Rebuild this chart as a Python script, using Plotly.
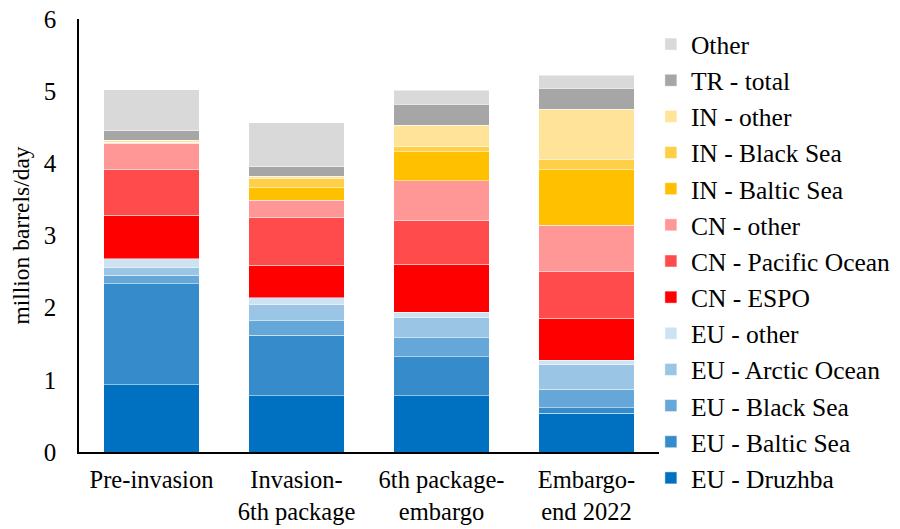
import plotly.graph_objects as go

categories = ["Pre-invasion", "Invasion-<br>6th package", "6th package-<br>embargo", "Embargo-<br>end 2022"]

series_names = [
    "EU - Druzhba", "EU - Baltic Sea", "EU - Black Sea", "EU - Arctic Ocean", "EU - other",
    "CN - ESPO", "CN - Pacific Ocean", "CN - other",
    "IN - Baltic Sea", "IN - Black Sea", "IN - other",
    "TR - total", "Other",
]

eu_druzhba = [0.93, 0.78, 0.78, 0.54]
eu_baltic = [1.40, 0.84, 0.54, 0.07]
eu_black = [0.12, 0.20, 0.26, 0.26]
eu_arctic = [0.11, 0.23, 0.28, 0.34]
eu_other = [0.12, 0.09, 0.08, 0.06]
cn_espo = [0.60, 0.45, 0.66, 0.58]
cn_pacific = [0.64, 0.66, 0.61, 0.65]
cn_other = [0.36, 0.24, 0.55, 0.64]
in_baltic = [0.01, 0.17, 0.40, 0.77]
in_black = [0.00, 0.13, 0.08, 0.15]
in_other = [0.03, 0.03, 0.29, 0.69]
tr_total = [0.13, 0.13, 0.29, 0.29]
other = [0.57, 0.61, 0.19, 0.18]

values = [eu_druzhba, eu_baltic, eu_black, eu_arctic, eu_other,
          cn_espo, cn_pacific, cn_other,
          in_baltic, in_black, in_other,
          tr_total, other]

colors = ["#0070C0", "#368CCB", "#65A7D8", "#9BC5E4", "#CDE2F2",
          "#FF0000", "#FF4B4B", "#FF9797",
          "#FFC000", "#FFCF47", "#FFE399",
          "#A6A6A6", "#D9D9D9"]

fig = go.Figure()
for name, vals, col in zip(series_names, values, colors):
    fig.add_trace(go.Bar(
        x=categories, y=vals, name=name,
        marker=dict(color=col, line=dict(color="rgba(255,255,255,0.6)", width=0.8)),
    ))

font = "Liberation Serif"
H = 529
top_m, bot_m = 0, 40
gs_h = H - top_m - bot_m
gs_bottom = H - bot_m
ax_top, ax_bot = 19, 452
dom = [(gs_bottom - ax_bot) / gs_h, (gs_bottom - ax_top) / gs_h]

fig.update_layout(
    width=900, height=H,
    barmode="stack", bargap=0.34,
    plot_bgcolor="white", paper_bgcolor="white",
    font=dict(family=font, size=25, color="black"),
    margin=dict(l=79, r=241, t=top_m, b=bot_m, autoexpand=False),
    showlegend=True,
    legend=dict(
        traceorder="reversed",
        x=0.986, xanchor="left", y=(gs_bottom - 21) / gs_h, yanchor="top",
        font=dict(family=font, size=25.5, color="black"),
        bgcolor="rgba(0,0,0,0)",
    ),
    xaxis=dict(showline=True, linecolor="black", linewidth=1.5,
               ticks="outside", ticklen=5, tickcolor="rgba(0,0,0,0)",
               tickfont=dict(family=font, size=24.5), showgrid=False),
    yaxis=dict(domain=dom, range=[0, 6], dtick=1, showline=True, linecolor="black", linewidth=1.5,
               ticks="outside", ticklen=16, tickcolor="rgba(0,0,0,0)",
               showgrid=False, zeroline=False, tickfont=dict(family=font, size=25),
               title=dict(text="million barrels/day", font=dict(family=font, size=23.5), standoff=8)),
)

fig.write_html("out.html", config={"displayModeBar": False},
               post_script="document.body.style.margin='0';document.body.style.overflow='hidden';")
